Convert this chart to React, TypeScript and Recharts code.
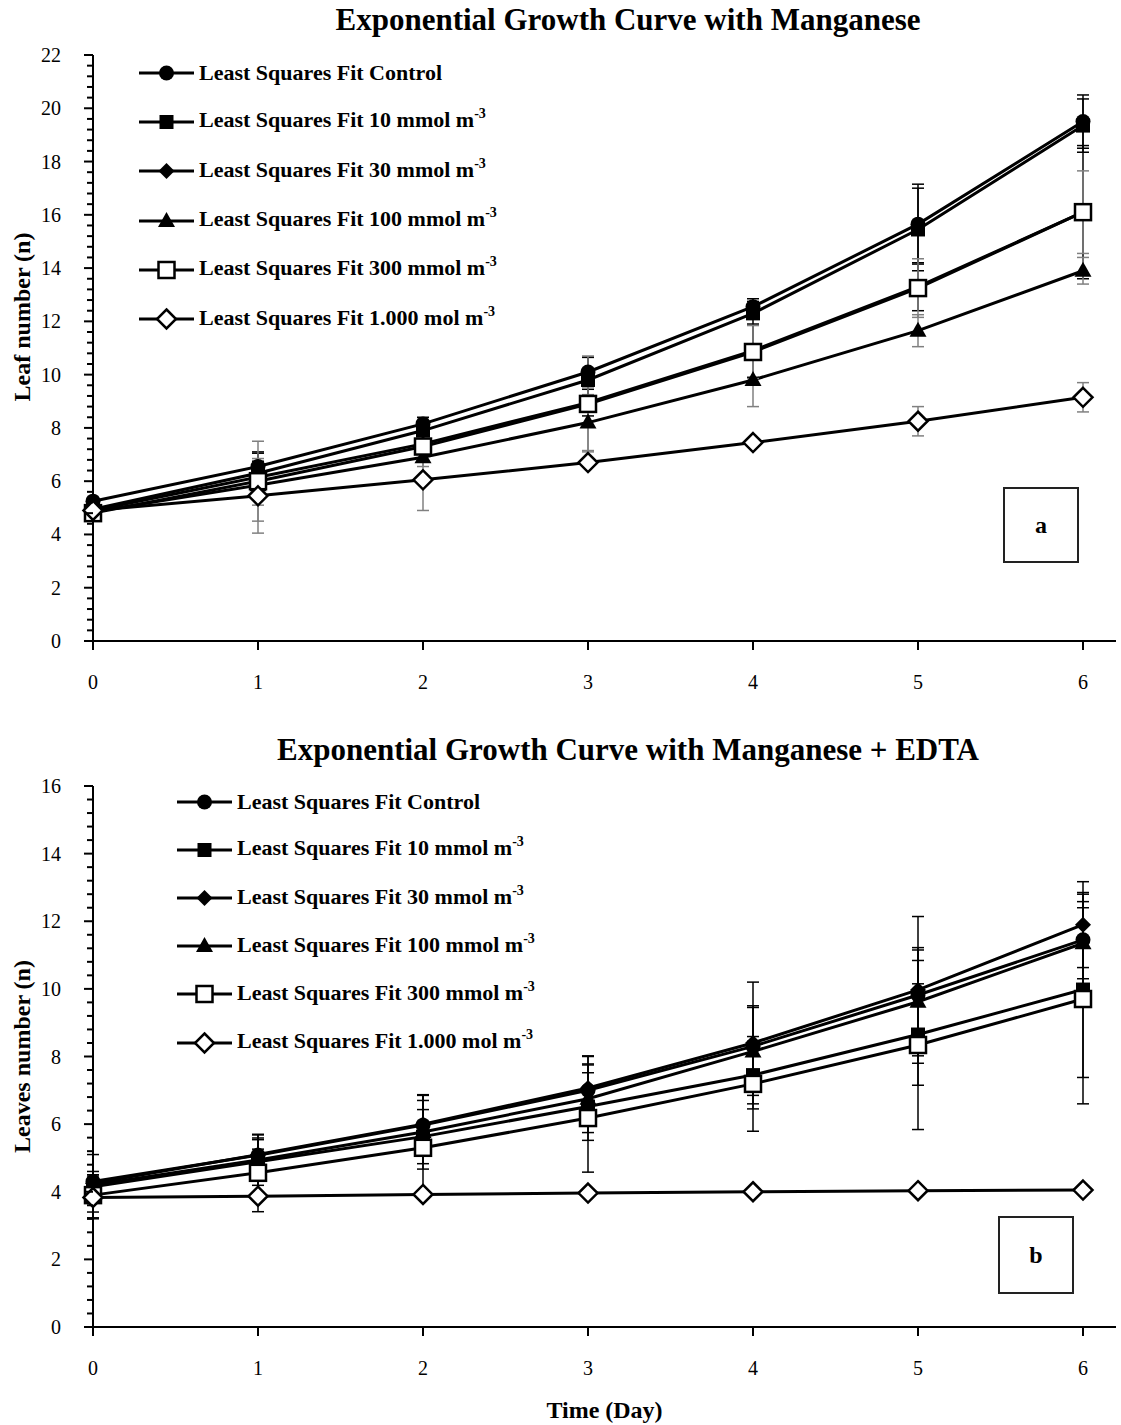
import React from "react";
import { LineChart, Line, XAxis, YAxis, ErrorBar, Legend } from "recharts";

const FONT = '"Liberation Serif", "Times New Roman", serif';

// x axis
const days = [0, 1, 2, 3, 4, 5, 6];
const dayTicks = [0, 1, 2, 3, 4, 5, 6];

// series meta (same for both panels)
const seriesKeys = ["control", "mn10", "mn30", "mn100", "mn300", "mn1000"];
const seriesNames = [
  "Least Squares Fit Control",
  "Least Squares Fit 10 mmol m",
  "Least Squares Fit 30 mmol m",
  "Least Squares Fit 100 mmol m",
  "Least Squares Fit 300 mmol m",
  "Least Squares Fit 1.000 mol m",
];
const seriesSup = ["", "-3", "-3", "-3", "-3", "-3"];
const seriesShapes = ["circle", "square", "diamond", "triangle", "openSquare", "openDiamond"];

// panel a: Manganese
const aControl = [5.25, 6.55, 8.15, 10.1, 12.55, 15.65, 19.5];
const aMn10 = [4.95, 6.3, 7.9, 9.8, 12.3, 15.45, 19.35];
const aMn30 = [4.9, 6.15, 7.4, 8.95, 10.9, 13.3, 16.1];
const aMn100 = [4.85, 5.85, 6.9, 8.2, 9.8, 11.65, 13.9];
const aMn300 = [4.8, 6.0, 7.3, 8.9, 10.85, 13.25, 16.1];
const aMn1000 = [4.9, 5.45, 6.05, 6.7, 7.45, 8.25, 9.15];
const aControlErr = [0, 0.5, 0.25, 0.55, 0.3, 1.5, 1.0];
const aMn10Err = [0, 0.8, 0.35, 0.85, 0.45, 1.55, 1.0];
const aMn30Err = [0, 0.6, 0.3, 0.5, 1.0, 0.9, 2.5];
const aMn100Err = [0, 0.75, 0.35, 1.05, 1.0, 0.6, 0.5];
const aMn300Err = [0, 1.5, 0.5, 1.8, 1.0, 1.1, 1.55];
const aMn1000Err = [0, 1.4, 1.15, 0, 0, 0.55, 0.55];
const aErrColors = ["#000000", "#000000", "#000000", "#808080", "#808080", "#808080"];

// panel b: Manganese + EDTA
const bControl = [4.3, 5.08, 5.97, 7.0, 8.3, 9.82, 11.45];
const bMn10 = [4.15, 4.89, 5.63, 6.52, 7.45, 8.65, 9.98];
const bMn30 = [4.25, 5.1, 6.0, 7.07, 8.4, 9.97, 11.9];
const bMn100 = [4.2, 4.94, 5.77, 6.75, 8.15, 9.62, 11.35];
const bMn300 = [3.9, 4.56, 5.3, 6.18, 7.19, 8.34, 9.7];
const bMn1000 = [3.83, 3.87, 3.92, 3.96, 4.0, 4.03, 4.05];
const bControlErr = [0.2, 0.6, 0.9, 1.0, 1.2, 1.33, 1.4];
const bMn10Err = [0.2, 0.7, 0.8, 1.0, 1.0, 1.5, 2.6];
const bMn30Err = [0.85, 0.6, 0.85, 0.95, 1.8, 2.17, 1.27];
const bMn100Err = [0.3, 0.6, 1.1, 1.0, 1.3, 1.6, 1.05];
const bMn300Err = [0.7, 0.7, 1.4, 1.6, 1.4, 2.5, 3.1];
const bMn1000Err = [0.6, 0.46, 0.1, 0.1, 0.1, 0.1, 0.1];
const bErrColors = ["#000000", "#000000", "#000000", "#000000", "#000000", "#000000"];

// y axis: labelled every 2, minor ticks every 0.4
const aTicks = [0, 2, 4, 6, 8, 10, 12, 14, 16, 18, 20, 22];
const bTicks = [0, 2, 4, 6, 8, 10, 12, 14, 16];
const MINOR_STEP = 0.4;

function buildRows(values: number[][], errs: number[][]) {
  return days.map((d, i) => {
    const row: Record<string, number> = { day: d };
    seriesKeys.forEach((k, s) => {
      row[k] = values[s][i];
      row[k + "_err"] = errs[s][i];
    });
    return row;
  });
}

const dataA = buildRows(
  [aControl, aMn10, aMn30, aMn100, aMn300, aMn1000],
  [aControlErr, aMn10Err, aMn30Err, aMn100Err, aMn300Err, aMn1000Err]
);
const dataB = buildRows(
  [bControl, bMn10, bMn30, bMn100, bMn300, bMn1000],
  [bControlErr, bMn10Err, bMn30Err, bMn100Err, bMn300Err, bMn1000Err]
);

function minorTicks(max: number) {
  const out: number[] = [];
  for (let i = 0; i * MINOR_STEP <= max + 1e-6; i++) out.push(Math.round(i * MINOR_STEP * 10) / 10);
  return out;
}

function Marker({ shape, cx, cy }: { shape: string; cx: number; cy: number }) {
  if (cx == null || cy == null) return null;
  switch (shape) {
    case "circle":
      return <circle cx={cx} cy={cy} r={7.5} fill="#000" />;
    case "square":
      return <rect x={cx - 7} y={cy - 7} width={14} height={14} fill="#000" />;
    case "diamond":
      return <polygon points={`${cx},${cy - 8} ${cx + 8},${cy} ${cx},${cy + 8} ${cx - 8},${cy}`} fill="#000" />;
    case "triangle":
      return <polygon points={`${cx},${cy - 9} ${cx + 8.5},${cy + 6} ${cx - 8.5},${cy + 6}`} fill="#000" />;
    case "openSquare":
      return <rect x={cx - 8} y={cy - 8} width={16} height={16} fill="#fff" stroke="#000" strokeWidth={2.5} />;
    case "openDiamond":
      return (
        <polygon
          points={`${cx},${cy - 9.5} ${cx + 9.5},${cy} ${cx},${cy + 9.5} ${cx - 9.5},${cy}`}
          fill="#fff"
          stroke="#000"
          strokeWidth={2.5}
        />
      );
    default:
      return null;
  }
}

const TICK_SIZE = 9;
const TICK_MARGIN = 23;

// draws minor ticks, and the longer labelled ones
function makeYTick(labels: number[]) {
  return (props: any) => {
    const { x, y, payload } = props;
    const v = payload.value;
    const major = labels.some((t) => Math.abs(t - v) < 1e-6);
    const axisX = x + TICK_SIZE + TICK_MARGIN;
    return (
      <g>
        <line x1={axisX - (major ? 9 : 6)} x2={axisX} y1={y} y2={y} stroke="#000" strokeWidth={2} />
        {major && (
          <text x={x} y={y} dy="0.35em" textAnchor="end" fontFamily={FONT} fontSize={20} fill="#000">
            {v}
          </text>
        )}
      </g>
    );
  };
}

function yLabel(text: string, shift: number) {
  return (props: any) => {
    const vb = props.viewBox || { x: 0, y: 0, width: 0, height: 0 };
    const cx = vb.x + vb.width / 2;
    const cy = vb.y + vb.height / 2 + shift;
    return (
      <text
        x={cx}
        y={cy}
        transform={`rotate(-90, ${cx}, ${cy})`}
        textAnchor="middle"
        dominantBaseline="central"
        fontFamily={FONT}
        fontWeight="bold"
        fontSize={24}
        fill="#000"
      >
        {text}
      </text>
    );
  };
}

function makeLegend(rowH: number) {
  return () => (
    <div>
      {seriesKeys.map((k, i) => (
        <div key={k} style={{ height: rowH, display: "flex", alignItems: "center" }}>
          <svg width={55} height={24} style={{ display: "block" }}>
            <line x1={0} x2={55} y1={12} y2={12} stroke="#000" strokeWidth={3} />
            <Marker shape={seriesShapes[i]} cx={27.5} cy={12} />
          </svg>
          <span
            style={{
              marginLeft: 5,
              fontFamily: FONT,
              fontWeight: "bold",
              fontSize: 22,
              whiteSpace: "nowrap",
              color: "#000",
              lineHeight: "24px",
            }}
          >
            {seriesNames[i]}
            {seriesSup[i] && <span style={{ fontSize: 14, position: "relative", top: -9 }}>{seriesSup[i]}</span>}
          </span>
        </div>
      ))}
    </div>
  );
}

function Panel({
  data,
  height,
  top,
  yMax,
  yTicks,
  errColors,
  yTitle,
  yShift,
  legendTop,
  legendLeft,
  legendRow,
  xHeight,
  xTitle,
}: any) {
  return (
    <LineChart width={1121} height={height} data={data} margin={{ top, right: 5, left: -49, bottom: 0 }}>
      <XAxis
        dataKey="day"
        type="number"
        domain={[0, 6.2]}
        ticks={dayTicks}
        interval={0}
        height={xHeight}
        axisLine={{ stroke: "#000", strokeWidth: 2 }}
        tickLine={{ stroke: "#000", strokeWidth: 2 }}
        tickSize={TICK_SIZE}
        tickMargin={25}
        tick={{ fill: "#000", fontSize: 20, fontFamily: FONT }}
        label={
          xTitle
            ? {
                value: xTitle,
                position: "insideBottom",
                offset: 7,
                style: { fontFamily: FONT, fontWeight: "bold", fontSize: 24, fill: "#000" },
              }
            : undefined
        }
      />
      <YAxis
        type="number"
        domain={[0, yMax]}
        ticks={minorTicks(yMax)}
        interval={0}
        width={142}
        axisLine={{ stroke: "#000", strokeWidth: 2 }}
        tickLine={false}
        tickSize={TICK_SIZE}
        tickMargin={TICK_MARGIN}
        tick={makeYTick(yTicks)}
        label={yLabel(yTitle, yShift)}
        allowDataOverflow
      />
      <Legend
        layout="vertical"
        align="center"
        verticalAlign="middle"
        wrapperStyle={{ left: legendLeft, top: legendTop, width: 520 }}
        content={makeLegend(legendRow)}
      />
      {seriesKeys.map((k, i) => (
        <Line
          key={k}
          dataKey={k}
          name={seriesNames[i]}
          type="linear"
          stroke="#000"
          strokeWidth={3}
          isAnimationActive={false}
          activeDot={false}
          dot={(p: any) => <Marker key={`${k}-${p.index}`} shape={seriesShapes[i]} cx={p.cx} cy={p.cy} />}
        >
          <ErrorBar dataKey={k + "_err"} direction="y" width={6} stroke={errColors[i]} strokeWidth={1.5} />
        </Line>
      ))}
    </LineChart>
  );
}

const titleStyle: React.CSSProperties = {
  position: "absolute",
  left: 128,
  width: 1000,
  textAlign: "center",
  fontFamily: FONT,
  fontWeight: "bold",
  fontSize: 31,
  color: "#000",
  lineHeight: "36px",
};

const boxStyle: React.CSSProperties = {
  position: "absolute",
  border: "2px solid #222",
  boxSizing: "border-box",
  display: "flex",
  alignItems: "center",
  justifyContent: "center",
  fontFamily: FONT,
  fontWeight: "bold",
  fontSize: 24,
  color: "#000",
  background: "#fff",
};

export default function App() {
  return (
    <div style={{ position: "absolute", left: 0, top: 0, width: 1121, height: 1425, background: "#fff" }}>
      <div style={{ position: "absolute", left: 0, top: 0 }}>
        <Panel
          data={dataA}
          height={700}
          top={55}
          yMax={22}
          yTicks={aTicks}
          errColors={aErrColors}
          yTitle="Leaf number (n)"
          yShift={-31}
          legendTop={48}
          legendLeft={139}
          legendRow={49.3}
          xHeight={59}
        />
      </div>
      <div style={{ position: "absolute", left: 0, top: 700 }}>
        <Panel
          data={dataB}
          height={725}
          top={86}
          yMax={16}
          yTicks={bTicks}
          errColors={bErrColors}
          yTitle="Leaves number (n)"
          yShift={0}
          legendTop={77.6}
          legendLeft={177}
          legendRow={48.2}
          xHeight={98}
          xTitle="Time (Day)"
        />
      </div>
      <div style={{ ...titleStyle, top: 2 }}>Exponential Growth Curve with Manganese</div>
      <div style={{ ...titleStyle, top: 732 }}>Exponential Growth Curve with Manganese + EDTA</div>
      <div style={{ ...boxStyle, left: 1003, top: 487, width: 76, height: 76 }}>a</div>
      <div style={{ ...boxStyle, left: 998, top: 1216, width: 76, height: 78 }}>b</div>
    </div>
  );
}
